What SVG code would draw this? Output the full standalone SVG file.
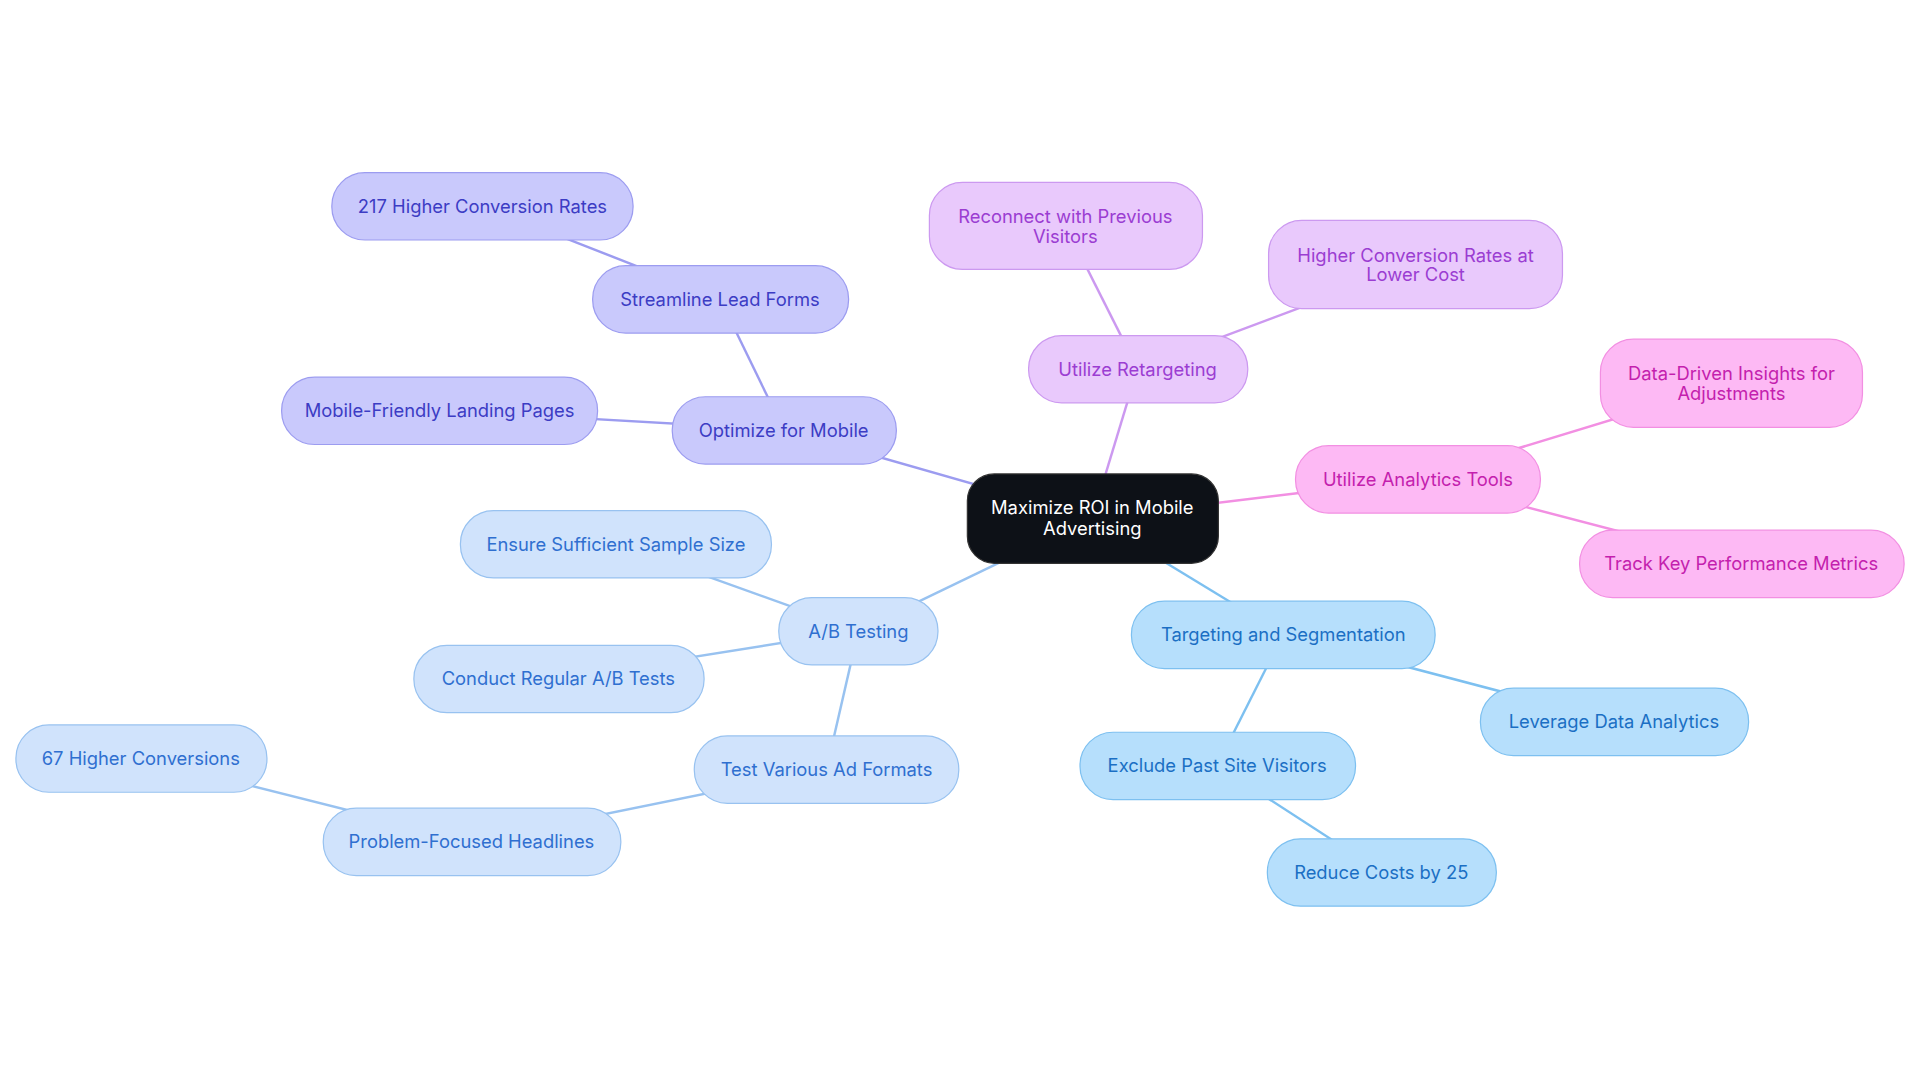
<svg xmlns="http://www.w3.org/2000/svg" width="1920" height="1083" viewBox="0 0 1920 1083">
<style>
text{font-family:Inter,"Noto Sans",sans-serif;font-size:15px;text-anchor:middle;dominant-baseline:central}
.c rect{fill:#0d1117;stroke:#333}.c text{fill:#fff}
.p rect{fill:#c9c9fc;stroke:#9c9cf0}.p text{fill:#3c3cc4}
.l rect{fill:#e9c9fc;stroke:#cc99f0}.l text{fill:#9b3dd2}
.k rect{fill:#fdb9f4;stroke:#f28fe2}.k text{fill:#c41fae}
.b rect{fill:#b6dffc;stroke:#7dc0f0}.b text{fill:#1b6fc4}
.a rect{fill:#d0e3fc;stroke:#98c2f0}.a text{fill:#2f6fd0}
line{stroke-width:2}
</style>
<rect width="1920" height="1083" fill="#fff"/>
<g transform="scale(1.2245)">
<g id="connectors">
<g stroke="#9c9cf0"><line x1="892" y1="423" x2="640" y2="351"/><line x1="640" y1="351" x2="588" y2="244"/><line x1="588" y1="244" x2="394" y2="168"/><line x1="640" y1="351" x2="359" y2="335"/></g>
<g stroke="#cc99f0"><line x1="892" y1="423" x2="929" y2="301"/><line x1="929" y1="301" x2="870" y2="184"/><line x1="929" y1="301" x2="1156" y2="216"/></g>
<g stroke="#f28fe2"><line x1="892" y1="423" x2="1158" y2="391"/><line x1="1158" y1="391" x2="1414" y2="313"/><line x1="1158" y1="391" x2="1422" y2="460"/></g>
<g stroke="#7dc0f0"><line x1="892" y1="423" x2="1048" y2="518"/><line x1="1048" y1="518" x2="1318" y2="589"/><line x1="1048" y1="518" x2="994" y2="625"/><line x1="994" y1="625" x2="1128" y2="712"/></g>
<g stroke="#98c2f0"><line x1="892" y1="423" x2="701" y2="515"/><line x1="701" y1="515" x2="503" y2="444"/><line x1="701" y1="515" x2="456" y2="554"/><line x1="701" y1="515" x2="675" y2="628"/><line x1="675" y1="628" x2="385" y2="687"/><line x1="385" y1="687" x2="115" y2="619"/></g>
</g>
<g id="center" class="c"><rect x="790" y="387" width="205" height="73" rx="22"/><text x="892" y="414">Maximize ROI in Mobile</text><text x="892" y="431">Advertising</text></g>
<g id="optimize" class="p"><rect x="549" y="324" width="183" height="55" rx="27"/><text x="640" y="351">Optimize for Mobile</text></g>
<g id="streamline" class="p"><rect x="484" y="217" width="209" height="55" rx="27"/><text x="588" y="244">Streamline Lead Forms</text></g>
<g id="conv217" class="p"><rect x="271" y="141" width="246" height="55" rx="27"/><text x="394" y="168">217 Higher Conversion Rates</text></g>
<g id="landing" class="p"><rect x="230" y="308" width="258" height="55" rx="27"/><text x="359" y="335">Mobile-Friendly Landing Pages</text></g>
<g id="retarget" class="l"><rect x="840" y="274" width="179" height="55" rx="27"/><text x="929" y="301">Utilize Retargeting</text></g>
<g id="reconnect" class="l"><rect x="759" y="149" width="223" height="71" rx="27"/><text x="870" y="176">Reconnect with Previous</text><text x="870" y="193">Visitors</text></g>
<g id="higherconv" class="l"><rect x="1036" y="180" width="240" height="72" rx="27"/><text x="1156" y="208">Higher Conversion Rates at</text><text x="1156" y="224">Lower Cost</text></g>
<g id="analytics" class="k"><rect x="1058" y="364" width="200" height="55" rx="27"/><text x="1158" y="391">Utilize Analytics Tools</text></g>
<g id="insights" class="k"><rect x="1307" y="277" width="214" height="72" rx="27"/><text x="1414" y="305">Data-Driven Insights for</text><text x="1414" y="321">Adjustments</text></g>
<g id="kpi" class="k"><rect x="1290" y="433" width="265" height="55" rx="27"/><text x="1422" y="460">Track Key Performance Metrics</text></g>
<g id="targeting" class="b"><rect x="924" y="491" width="248" height="55" rx="27"/><text x="1048" y="518">Targeting and Segmentation</text></g>
<g id="leverage" class="b"><rect x="1209" y="562" width="219" height="55" rx="27"/><text x="1318" y="589">Leverage Data Analytics</text></g>
<g id="exclude" class="b"><rect x="882" y="598" width="225" height="55" rx="27"/><text x="994" y="625">Exclude Past Site Visitors</text></g>
<g id="reduce" class="b"><rect x="1035" y="685" width="187" height="55" rx="27"/><text x="1128" y="712">Reduce Costs by 25</text></g>
<g id="ab" class="a"><rect x="636" y="488" width="130" height="55" rx="27"/><text x="701" y="515">A/B Testing</text></g>
<g id="sample" class="a"><rect x="376" y="417" width="254" height="55" rx="27"/><text x="503" y="444">Ensure Sufficient Sample Size</text></g>
<g id="regular" class="a"><rect x="338" y="527" width="237" height="55" rx="27"/><text x="456" y="554">Conduct Regular A/B Tests</text></g>
<g id="formats" class="a"><rect x="567" y="601" width="216" height="55" rx="27"/><text x="675" y="628">Test Various Ad Formats</text></g>
<g id="headlines" class="a"><rect x="264" y="660" width="243" height="55" rx="27"/><text x="385" y="687">Problem-Focused Headlines</text></g>
<g id="conv67" class="a"><rect x="13" y="592" width="205" height="55" rx="27"/><text x="115" y="619">67 Higher Conversions</text></g>
</g>
</svg>
